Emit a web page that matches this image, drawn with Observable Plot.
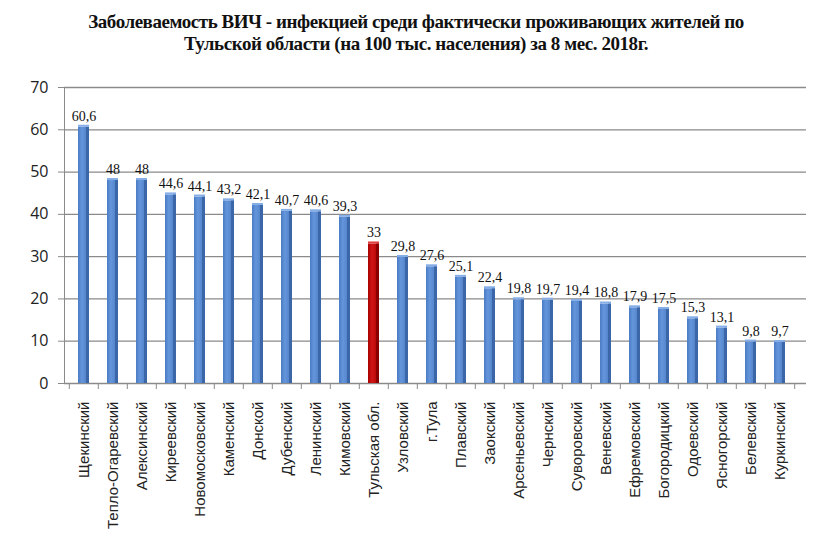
<!DOCTYPE html>
<html>
<head>
<meta charset="utf-8">
<script src="https://cdn.jsdelivr.net/npm/d3@7"></script>
<script src="https://cdn.jsdelivr.net/npm/@observablehq/plot@0.6"></script>
<style>
  body { margin: 0; background: #fff; width: 832px; height: 550px; overflow: hidden; }
  #title { font: bold 19px "Liberation Serif", serif; text-align: center; line-height: 22px;
           padding-top: 11px; height: 57px; color: #111; width: 832px; letter-spacing: -0.45px; }
  svg { display: block; }
</style>
</head>
<body>
<div id="title">Заболеваемость ВИЧ - инфекцией среди фактически проживающих жителей по<br>Тульской области (на 100 тыс. населения) за 8 мес. 2018г.</div>
<div id="chart"></div>
<script>
const categories = ["Щекинский","Тепло-Огаревский","Алексинский","Киреевский","Новомосковский","Каменский","Донской","Дубенский","Ленинский","Кимовский","Тульская обл.","Узловский","г.Тула","Плавский","Заокский","Арсеньевский","Чернский","Суворовский","Веневский","Ефремовский","Богородицкий","Одоевский","Ясногорский","Белевский","Куркинский"];
const values = [60.6,48,48,44.6,44.1,43.2,42.1,40.7,40.6,39.3,33,29.8,27.6,25.1,22.4,19.8,19.7,19.4,18.8,17.9,17.5,15.3,13.1,9.8,9.7];
const highlight = "Тульская обл.";
const yTicks = [0,10,20,30,40,50,60,70];

const data = categories.map((c, i) => ({name: c, value: values[i]}));
const blue = data.filter(d => d.name !== highlight);
const red = data.filter(d => d.name === highlight);
const fmt = v => String(v).replace(".", ",");

const chart = Plot.plot({
  width: 832, height: 482,
  marginLeft: 64, marginRight: 32, marginTop: 19, marginBottom: 167,
  style: {fontFamily: "Liberation Sans, Arial, sans-serif", background: "white", color: "#222"},
  x: {domain: categories, paddingInner: 0.62, paddingOuter: 0.31, label: null},
  y: {domain: [0, 70], label: null},
  marks: [
    Plot.ruleY(yTicks, {stroke: "#8a8a8a", strokeWidth: 1.3, insetRight: -6}),
    Plot.frame({anchor: "left", stroke: "#8a8a8a"}),
    Plot.axisY({ticks: yTicks, tickSize: 6, tickPadding: 10, fontSize: 16, fontFamily: "Open Sans, sans-serif", stroke: "#8a8a8a", fill: "#222", label: null}),
    Plot.axisX({tickSize: 0, tickRotate: -90, tickPadding: 18, fontSize: 15, label: null, fill: "#222"}),
    Plot.ruleX(categories, {x: d => d, y1: 0, y2: 0, insetBottom: -6, dx: -14.7, stroke: "#8a8a8a"}),
    Plot.ruleX(categories.slice(-1), {x: d => d, y1: 0, y2: 0, insetBottom: -6, dx: 14.7, stroke: "#8a8a8a"}),
    Plot.barY(blue, {x: "name", y: "value", fill: "url(#gBlue)"}),
    Plot.barY(blue, {x: "name", y: "value", fill: "#3b67a8", insetLeft: 8}),
    Plot.barY(blue, {x: "name", y1: "value", y2: "value", insetTop: -2, fill: "#86aee6"}),
    Plot.barY(red, {x: "name", y: "value", fill: "url(#gRed)"}),
    Plot.barY(red, {x: "name", y: "value", fill: "#8a0000", insetLeft: 8}),
    Plot.barY(red, {x: "name", y1: "value", y2: "value", insetTop: -2, fill: "#e04040"}),
    Plot.text(data, {x: "name", y: "value", text: d => fmt(d.value), dy: -11, fontFamily: "Liberation Serif, serif", fontSize: 14, fill: "#111"})
  ]
});

const defs = d3.select(chart).insert("defs", ":first-child");
const gb = defs.append("linearGradient").attr("id", "gBlue").attr("x1", 0).attr("x2", 1).attr("y1", 0).attr("y2", 0);
gb.append("stop").attr("offset", "0%").attr("stop-color", "#4a7cc4");
gb.append("stop").attr("offset", "35%").attr("stop-color", "#6596dc");
gb.append("stop").attr("offset", "100%").attr("stop-color", "#4a7bc2");
const gr = defs.append("linearGradient").attr("id", "gRed").attr("x1", 0).attr("x2", 1).attr("y1", 0).attr("y2", 0);
gr.append("stop").attr("offset", "0%").attr("stop-color", "#a80000");
gr.append("stop").attr("offset", "35%").attr("stop-color", "#d01515");
gr.append("stop").attr("offset", "100%").attr("stop-color", "#b00000");

document.getElementById("chart").appendChild(chart);
</script>
</body>
</html>
